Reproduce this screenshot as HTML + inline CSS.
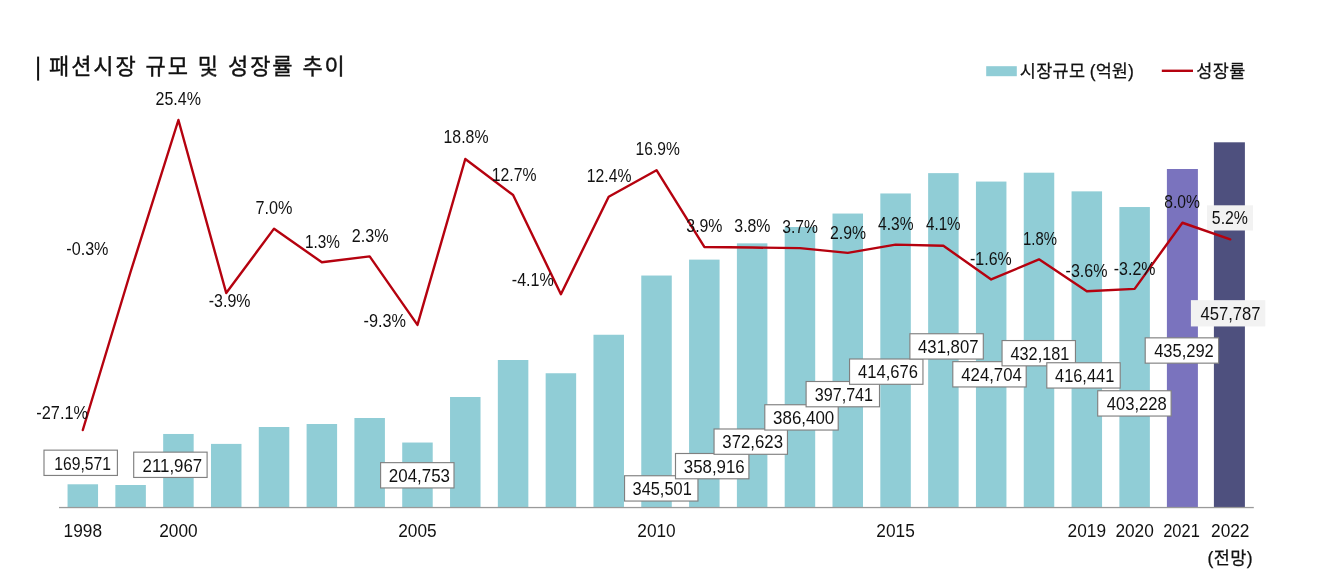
<!DOCTYPE html>
<html lang="ko"><head><meta charset="utf-8"><title>패션시장 규모 및 성장률 추이</title>
<style>
html,body{margin:0;padding:0;background:#fff;}
body{width:1337px;height:577px;overflow:hidden;}
svg{display:block;}
text{font-family:"Liberation Sans","Noto Sans CJK KR",sans-serif;fill:#111;}
.n{font-size:17.9px;}
.k{font-family:"Liberation Sans","Noto Sans CJK KR",sans-serif;}
</style></head><body>
<svg width="1337" height="577" viewBox="0 0 1337 577">
<rect width="1337" height="577" fill="#fff"/>
<g id="title"><rect x="37.1" y="56.6" width="2" height="24" fill="#111"/>
<text class="k" id="ttl" x="49" y="74.1" font-size="22" stroke="#111" stroke-width="0.4" textLength="295.8" lengthAdjust="spacing">패션시장 규모 및 성장률 추이</text></g>
<g id="legend"><rect x="986.2" y="66.2" width="30.6" height="10" fill="#90cdd6"/>
<text class="k" id="lg1" y="76.8" font-size="17.5" stroke="#111" stroke-width="0.25"><tspan x="1019.8" textLength="65.2" lengthAdjust="spacing">시장규모</tspan> <tspan x="1089.8" textLength="44" lengthAdjust="spacing">(억원)</tspan></text>
<line x1="1161.8" y1="70.8" x2="1193" y2="70.8" stroke="#b5020f" stroke-width="2.4"/>
<text class="k" id="lg2" x="1196.3" y="76.8" font-size="17.5" stroke="#111" stroke-width="0.25" textLength="49" lengthAdjust="spacing">성장률</text></g>
<g id="bars">
<rect x="67.55" y="484.28" width="30.5" height="23.22" fill="#90cdd6"/>
<rect x="115.36" y="485.00" width="30.5" height="22.50" fill="#90cdd6"/>
<rect x="163.17" y="433.97" width="30.5" height="73.53" fill="#90cdd6"/>
<rect x="210.98" y="443.90" width="30.5" height="63.60" fill="#90cdd6"/>
<rect x="258.79" y="427.00" width="30.5" height="80.50" fill="#90cdd6"/>
<rect x="306.60" y="424.00" width="30.5" height="83.50" fill="#90cdd6"/>
<rect x="354.41" y="418.00" width="30.5" height="89.50" fill="#90cdd6"/>
<rect x="402.22" y="442.53" width="30.5" height="64.97" fill="#90cdd6"/>
<rect x="450.03" y="397.00" width="30.5" height="110.50" fill="#90cdd6"/>
<rect x="497.84" y="360.00" width="30.5" height="147.50" fill="#90cdd6"/>
<rect x="545.65" y="373.25" width="30.5" height="134.25" fill="#90cdd6"/>
<rect x="593.46" y="334.75" width="30.5" height="172.75" fill="#90cdd6"/>
<rect x="641.27" y="275.53" width="30.5" height="231.97" fill="#90cdd6"/>
<rect x="689.08" y="259.62" width="30.5" height="247.88" fill="#90cdd6"/>
<rect x="736.89" y="243.35" width="30.5" height="264.15" fill="#90cdd6"/>
<rect x="784.70" y="227.01" width="30.5" height="280.49" fill="#90cdd6"/>
<rect x="832.51" y="213.55" width="30.5" height="293.95" fill="#90cdd6"/>
<rect x="880.32" y="193.46" width="30.5" height="314.04" fill="#90cdd6"/>
<rect x="928.13" y="173.13" width="30.5" height="334.37" fill="#90cdd6"/>
<rect x="975.94" y="181.56" width="30.5" height="325.94" fill="#90cdd6"/>
<rect x="1023.75" y="172.69" width="30.5" height="334.81" fill="#90cdd6"/>
<rect x="1071.56" y="191.36" width="30.5" height="316.14" fill="#90cdd6"/>
<rect x="1119.37" y="207.04" width="30.5" height="300.46" fill="#90cdd6"/>
<rect x="1166.90" y="169.00" width="31.0" height="338.50" fill="#7a73be"/>
<rect x="1213.90" y="142.30" width="31.0" height="365.20" fill="#4e507e"/>
</g>
<rect x="59" y="506.9" width="1194.8" height="1.3" fill="#9a9a9a"/>
<rect x="1207" y="205.3" width="46" height="25.2" fill="#f2f2f2"/>
<g id="vals">
<rect x="44.0" y="450.15" width="73.4" height="25.3" fill="#fff" stroke="#808080" stroke-width="1.15"/>
<text class="n" id="v0" x="54.30" y="469.8" textLength="56.70" lengthAdjust="spacingAndGlyphs">169,571</text>
<rect x="133.70000000000002" y="452.15" width="73.4" height="25.3" fill="#fff" stroke="#808080" stroke-width="1.15"/>
<text class="n" id="v2" x="142.50" y="471.6" textLength="59.70" lengthAdjust="spacingAndGlyphs">211,967</text>
<rect x="380.6" y="462.65" width="73.4" height="25.3" fill="#fff" stroke="#808080" stroke-width="1.15"/>
<text class="n" id="v7" x="388.80" y="481.9" textLength="61.20" lengthAdjust="spacingAndGlyphs">204,753</text>
<rect x="624.55" y="475.75" width="73.4" height="25.3" fill="#fff" stroke="#808080" stroke-width="1.15"/>
<text class="n" id="v12" x="632.55" y="495" textLength="59.20" lengthAdjust="spacingAndGlyphs">345,501</text>
<rect x="675.5" y="453.5" width="73.4" height="25.3" fill="#fff" stroke="#808080" stroke-width="1.15"/>
<text class="n" id="v13" x="683.80" y="473" textLength="60.95" lengthAdjust="spacingAndGlyphs">358,916</text>
<rect x="714.05" y="429.0" width="73.4" height="25.3" fill="#fff" stroke="#808080" stroke-width="1.15"/>
<text class="n" id="v14" x="722.30" y="447.75" textLength="60.70" lengthAdjust="spacingAndGlyphs">372,623</text>
<rect x="764.8" y="404.75" width="73.4" height="25.3" fill="#fff" stroke="#808080" stroke-width="1.15"/>
<text class="n" id="v15" x="773.05" y="423.75" textLength="61.20" lengthAdjust="spacingAndGlyphs">386,400</text>
<rect x="806.0999999999999" y="381.5" width="73.4" height="25.3" fill="#fff" stroke="#808080" stroke-width="1.15"/>
<text class="n" id="v16" x="814.80" y="400.5" textLength="58.20" lengthAdjust="spacingAndGlyphs">397,741</text>
<rect x="849.55" y="359.0" width="73.4" height="25.3" fill="#fff" stroke="#808080" stroke-width="1.15"/>
<text class="n" id="v17" x="858.05" y="378.25" textLength="59.95" lengthAdjust="spacingAndGlyphs">414,676</text>
<rect x="909.9" y="333.75" width="73.4" height="25.3" fill="#fff" stroke="#808080" stroke-width="1.15"/>
<text class="n" id="v18" x="918.05" y="352.75" textLength="60.45" lengthAdjust="spacingAndGlyphs">431,807</text>
<rect x="952.8" y="361.65" width="73.4" height="25.3" fill="#fff" stroke="#808080" stroke-width="1.15"/>
<text class="n" id="v19" x="961.30" y="380.6" textLength="60.45" lengthAdjust="spacingAndGlyphs">424,704</text>
<rect x="1002.05" y="340.55" width="73.4" height="25.3" fill="#fff" stroke="#808080" stroke-width="1.15"/>
<text class="n" id="v20" x="1010.55" y="359.6" textLength="58.70" lengthAdjust="spacingAndGlyphs">432,181</text>
<rect x="1046.8" y="362.75" width="73.4" height="25.3" fill="#fff" stroke="#808080" stroke-width="1.15"/>
<text class="n" id="v21" x="1055.05" y="381.9" textLength="59.20" lengthAdjust="spacingAndGlyphs">416,441</text>
<rect x="1097.7" y="390.75" width="73.4" height="25.3" fill="#fff" stroke="#808080" stroke-width="1.15"/>
<text class="n" id="v22" x="1106.80" y="410" textLength="59.95" lengthAdjust="spacingAndGlyphs">403,228</text>
<rect x="1145.2" y="337.85" width="73.4" height="25.3" fill="#fff" stroke="#808080" stroke-width="1.15"/>
<text class="n" id="v23" x="1154.20" y="357" textLength="59.60" lengthAdjust="spacingAndGlyphs">435,292</text>
<rect x="1190.8999999999999" y="300.15" width="74.4" height="26.3" fill="#f2f2f2"/>
<text class="n" id="v24" x="1200.40" y="320" textLength="60.10" lengthAdjust="spacingAndGlyphs">457,787</text>
</g>
<polyline id="line" points="82.80,430.01 130.61,271.76 178.42,120.00 226.23,293.02 274.04,228.65 321.85,262.31 369.66,256.41 417.47,324.90 465.28,158.97 513.09,194.99 560.90,294.20 608.71,196.76 656.52,170.19 704.33,246.96 752.14,247.55 799.95,248.14 847.76,252.86 895.57,244.60 943.38,245.78 991.19,279.44 1039.00,259.36 1086.81,291.25 1134.62,288.88 1182.43,222.75 1230.24,239.28" fill="none" stroke="#b5020f" stroke-width="2.4" stroke-linejoin="round" stroke-linecap="round"/>
<g id="rates">
<text class="n" id="r0" x="36.30" y="419.05" textLength="51.70" lengthAdjust="spacingAndGlyphs">-27.1%</text>
<text class="n" id="r1" x="66.30" y="254.55" textLength="42.20" lengthAdjust="spacingAndGlyphs">-0.3%</text>
<text class="n" id="r2" x="155.55" y="104.80" textLength="45.45" lengthAdjust="spacingAndGlyphs">25.4%</text>
<text class="n" id="r3" x="208.80" y="307.30" textLength="41.70" lengthAdjust="spacingAndGlyphs">-3.9%</text>
<text class="n" id="r4" x="255.55" y="214.05" textLength="36.95" lengthAdjust="spacingAndGlyphs">7.0%</text>
<text class="n" id="r5" x="305.05" y="248.30" textLength="34.95" lengthAdjust="spacingAndGlyphs">1.3%</text>
<text class="n" id="r6" x="351.80" y="242.30" textLength="36.70" lengthAdjust="spacingAndGlyphs">2.3%</text>
<text class="n" id="r7" x="363.55" y="326.55" textLength="42.45" lengthAdjust="spacingAndGlyphs">-9.3%</text>
<text class="n" id="r8" x="443.55" y="143.30" textLength="44.95" lengthAdjust="spacingAndGlyphs">18.8%</text>
<text class="n" id="r9" x="491.80" y="180.55" textLength="44.70" lengthAdjust="spacingAndGlyphs">12.7%</text>
<text class="n" id="r10" x="511.80" y="285.80" textLength="41.95" lengthAdjust="spacingAndGlyphs">-4.1%</text>
<text class="n" id="r11" x="586.80" y="182.05" textLength="44.70" lengthAdjust="spacingAndGlyphs">12.4%</text>
<text class="n" id="r12" x="635.55" y="155.05" textLength="44.20" lengthAdjust="spacingAndGlyphs">16.9%</text>
<text class="n" id="r13" x="686.30" y="232.30" textLength="36.20" lengthAdjust="spacingAndGlyphs">3.9%</text>
<text class="n" id="r14" x="734.30" y="232.30" textLength="36.20" lengthAdjust="spacingAndGlyphs">3.8%</text>
<text class="n" id="r15" x="782.30" y="233.05" textLength="35.70" lengthAdjust="spacingAndGlyphs">3.7%</text>
<text class="n" id="r16" x="830.05" y="238.55" textLength="35.95" lengthAdjust="spacingAndGlyphs">2.9%</text>
<text class="n" id="r17" x="878.05" y="230.30" textLength="35.45" lengthAdjust="spacingAndGlyphs">4.3%</text>
<text class="n" id="r18" x="926.05" y="230.30" textLength="34.45" lengthAdjust="spacingAndGlyphs">4.1%</text>
<text class="n" id="r19" x="970.05" y="264.55" textLength="41.70" lengthAdjust="spacingAndGlyphs">-1.6%</text>
<text class="n" id="r20" x="1023.05" y="244.80" textLength="33.95" lengthAdjust="spacingAndGlyphs">1.8%</text>
<text class="n" id="r21" x="1065.55" y="277.30" textLength="41.95" lengthAdjust="spacingAndGlyphs">-3.6%</text>
<text class="n" id="r22" x="1113.80" y="274.80" textLength="41.70" lengthAdjust="spacingAndGlyphs">-3.2%</text>
<text class="n" id="r23" x="1164.30" y="207.80" textLength="35.70" lengthAdjust="spacingAndGlyphs">8.0%</text>
<text class="n" id="r24" x="1211.80" y="224.05" textLength="36.20" lengthAdjust="spacingAndGlyphs">5.2%</text>
</g>
<g id="axis">
<text class="n" id="a0" x="63.60" y="537.2" textLength="38.4" lengthAdjust="spacingAndGlyphs">1998</text>
<text class="n" id="a2" x="159.22" y="537.2" textLength="38.4" lengthAdjust="spacingAndGlyphs">2000</text>
<text class="n" id="a7" x="398.27" y="537.2" textLength="38.4" lengthAdjust="spacingAndGlyphs">2005</text>
<text class="n" id="a12" x="637.32" y="537.2" textLength="38.4" lengthAdjust="spacingAndGlyphs">2010</text>
<text class="n" id="a17" x="876.37" y="537.2" textLength="38.4" lengthAdjust="spacingAndGlyphs">2015</text>
<text class="n" id="a21" x="1067.61" y="537.2" textLength="38.4" lengthAdjust="spacingAndGlyphs">2019</text>
<text class="n" id="a22" x="1115.42" y="537.2" textLength="38.4" lengthAdjust="spacingAndGlyphs">2020</text>
<text class="n" id="a23" x="1163.23" y="537.2" textLength="36.6" lengthAdjust="spacingAndGlyphs">2021</text>
<text class="n" id="a24" x="1211.04" y="537.2" textLength="38.4" lengthAdjust="spacingAndGlyphs">2022</text>
<text class="k" id="fc" x="1207.5" y="564.3" font-size="17.5" stroke="#111" stroke-width="0.25" textLength="45" lengthAdjust="spacing">(전망)</text>
</g>
</svg></body></html>
